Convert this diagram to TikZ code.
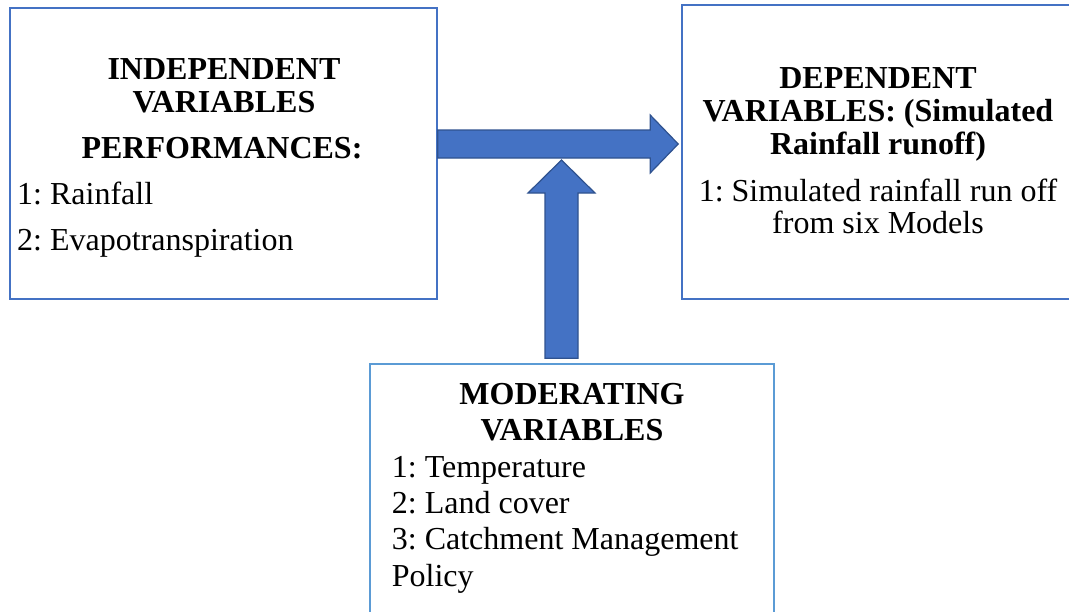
\documentclass[tikz,border=0pt]{standalone}
\usepackage{fontspec}
\setmainfont{Liberation Serif}
\usepackage{xcolor}
\usetikzlibrary{calc,positioning}
\frenchspacing

\definecolor{boxblue}{HTML}{4472C4}
\definecolor{lightblue}{HTML}{5B9BD5}
\definecolor{darkblue}{HTML}{2F528F}

\begin{document}
\begin{tikzpicture}[
    x=1pt, y=-1pt,
    varbox/.style={rectangle, draw=boxblue, line width=1.6pt, inner sep=0pt},
    heading/.style={font=\fontsize{32}{#1}\selectfont\bfseries, align=center, inner sep=0pt},
    itemtext/.style={font=\fontsize{32}{#1}\selectfont, inner sep=0pt},
    blockarrow/.style={fill=boxblue, draw=darkblue, line width=1.2pt, line join=miter}
]
\useasboundingbox (0,0) rectangle (1069,611);
\clip (0,0) rectangle (1069,611);

% boxes
\node (indep) [varbox, minimum width=427pt, minimum height=291pt] at (223.5,153.5) {};
\node (dep) [varbox, minimum width=398pt, minimum height=294pt] at (881,152) {};
\node (mod) [varbox, draw=lightblue, minimum width=404pt, minimum height=256pt] at (572,492) {};

% texts
\node (indephead) [heading=33, anchor=north] at (224,58.8) {INDEPENDENT\\VARIABLES};
\node (indepperf) [heading=33, anchor=base] at (222,158) {PERFORMANCES:};
\node (indeplist) [itemtext=46, align=left, anchor=north west] at (17,182) {1: Rainfall\\2: Evapotranspiration};

\node (dephead) [heading=33, anchor=north] at (878,67.8) {DEPENDENT\\VARIABLES: (Simulated\\Rainfall runoff)};
\node (deplist) [itemtext=32, align=center, anchor=north] at (878,179) {1: Simulated rainfall run off\\from six Models};

\node (modhead) [heading=36.7, anchor=north] at (572,382.8) {MODERATING\\VARIABLES};
\node (modlist) [itemtext=36.3, align=left, anchor=north west] at (391.7,456) {1: Temperature\\2: Land cover\\3: Catchment Management\\Policy};

% arrows
\path (indep.east) ++(0,-9.5) coordinate (hfrom);
\path (dep.west) ++(-3,-8) coordinate (hto);
\path (mod.north) ++(-10.5,-5) coordinate (vfrom);
\path (vfrom |- hfrom) ++(0,16) coordinate (vto);

\draw [blockarrow] ($(hfrom)+(0,-14)$) -- ($(hto)+(-28,-14)$) -- ($(hto)+(-28,-29)$) -- (hto)
    -- ($(hto)+(-28,29)$) -- ($(hto)+(-28,14)$) -- ($(hfrom)+(0,14)$) -- cycle;
\draw [blockarrow] ($(vfrom)+(-16.5,0)$) -- ($(vto)+(-16.5,33)$) -- ($(vto)+(-33.5,33)$) -- (vto)
    -- ($(vto)+(33.5,33)$) -- ($(vto)+(16.5,33)$) -- ($(vfrom)+(16.5,0)$) -- cycle;

\end{tikzpicture}
\end{document}
